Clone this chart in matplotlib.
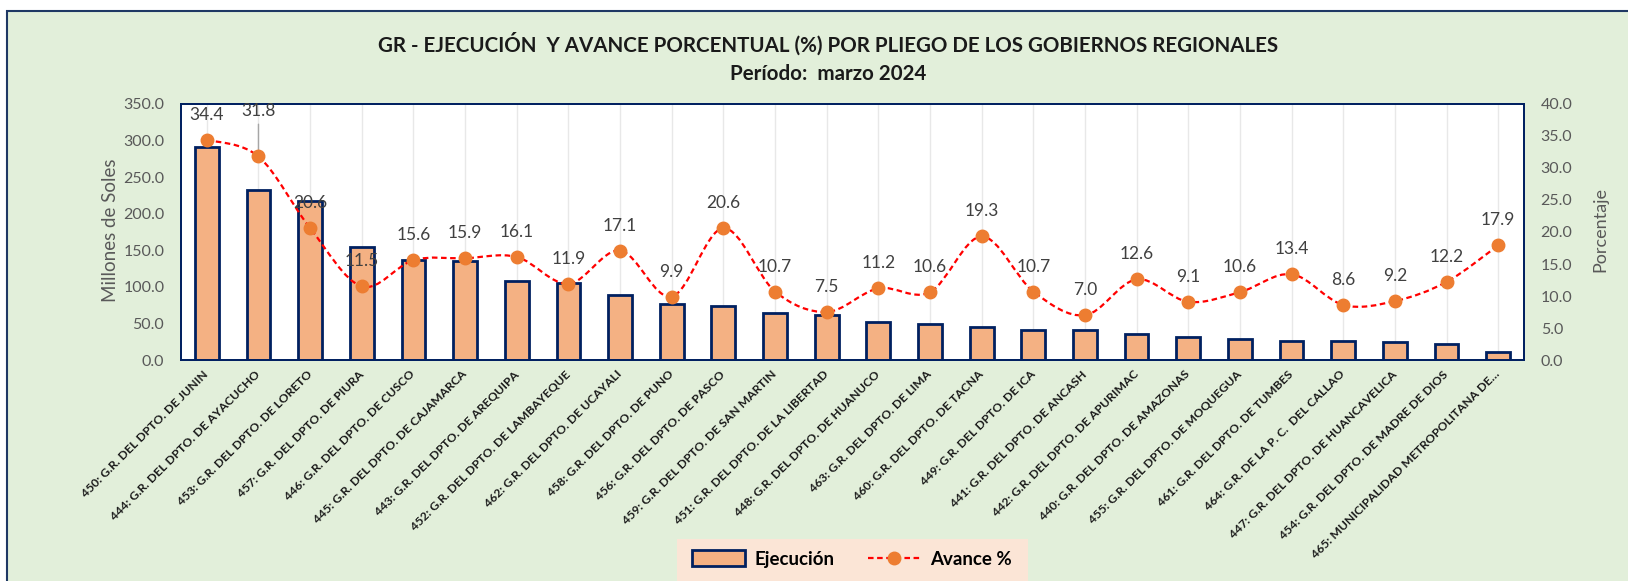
import numpy as np
import matplotlib
matplotlib.use("Agg")
import matplotlib.pyplot as plt
from matplotlib.patches import Rectangle, Patch, PathPatch
from matplotlib.lines import Line2D
from matplotlib.path import Path

plt.rcParams['font.family'] = ['Lato', 'DejaVu Sans']

categories = [
    "450: G.R. DEL DPTO. DE JUNIN",
    "444: G.R. DEL DPTO. DE AYACUCHO",
    "453: G.R. DEL DPTO. DE LORETO",
    "457: G.R. DEL DPTO. DE PIURA",
    "446: G.R. DEL DPTO. DE CUSCO",
    "445: G.R. DEL DPTO. DE CAJAMARCA",
    "443: G.R. DEL DPTO. DE AREQUIPA",
    "452: G.R. DEL DPTO. DE LAMBAYEQUE",
    "462: G.R. DEL DPTO. DE UCAYALI",
    "458: G.R. DEL DPTO. DE PUNO",
    "456: G.R. DEL DPTO. DE PASCO",
    "459: G.R. DEL DPTO. DE SAN MARTIN",
    "451: G.R. DEL DPTO. DE LA LIBERTAD",
    "448: G.R. DEL DPTO. DE HUANUCO",
    "463: G.R. DEL DPTO. DE LIMA",
    "460: G.R. DEL DPTO. DE TACNA",
    "449: G.R. DEL DPTO. DE ICA",
    "441: G.R. DEL DPTO. DE ANCASH",
    "442: G.R. DEL DPTO. DE APURIMAC",
    "440: G.R. DEL DPTO. DE AMAZONAS",
    "455: G.R. DEL DPTO. DE MOQUEGUA",
    "461: G.R. DEL DPTO. DE TUMBES",
    "464: G.R. DE LA P. C.  DEL CALLAO",
    "447: G.R. DEL DPTO. DE HUANCAVELICA",
    "454: G.R. DEL DPTO. DE MADRE DE DIOS",
    "465: MUNICIPALIDAD METROPOLITANA DE\u2026",
]
ejecucion = [291, 233, 218, 154, 137, 136, 108, 105, 89, 76.5, 74, 64, 61.5,
             51.5, 49, 45.5, 41, 40.7, 35, 31, 28.2, 26.5, 26.3, 24.5, 22.3, 11.3]
avance = [34.4, 31.8, 20.6, 11.5, 15.6, 15.9, 16.1, 11.9, 17.1, 9.9, 20.6, 10.7, 7.5,
          11.2, 10.6, 19.3, 10.7, 7.0, 12.6, 9.1, 10.6, 13.4, 8.6, 9.2, 12.2, 17.9]
left_ticks = [0, 50, 100, 150, 200, 250, 300, 350]
right_ticks = [0, 5, 10, 15, 20, 25, 30, 35, 40]

W, H = 1628, 581
fig = plt.figure(figsize=(W / 100, H / 100), dpi=100, facecolor='white')

# outer chart area
fig.patches.append(Rectangle((7 / W, -0.05), 1.2, (H - 11) / H + 0.05,
                             transform=fig.transFigure, facecolor='#E2EFDA',
                             edgecolor='#1F3864', lw=1.5, zorder=-10))

ax = fig.add_axes([181 / W, (H - 360) / H, (1524 - 181) / W, 256 / H])
ax.set_facecolor('white')
x = np.arange(len(categories))
ax.bar(x, ejecucion, width=0.46, color='#F4B183', edgecolor='#002060', lw=2.0, zorder=2)
ax.set_xlim(-0.5, len(categories) - 0.5)
ax.set_ylim(0, 350)
ax.set_yticks(left_ticks)
ax.set_yticklabels([f"{v:.1f}" for v in left_ticks])
ax.set_xticks(x)
ax.set_xticklabels(categories, rotation=45, ha='right', va='center',
                   rotation_mode='anchor', fontsize=8.7, fontweight='bold', color='#1a1a1a')
ax.tick_params(axis='x', length=0, pad=9)
ax.tick_params(axis='y', length=0, pad=12, labelsize=11.5, labelcolor='#595959')
ax.set_axisbelow(True)
ax.grid(axis='x', color='#E8E8E8', lw=1, zorder=0)
for s in ax.spines.values():
    s.set_color('#002060')
    s.set_linewidth(1.3)

ax2 = ax.twinx()
ax2.set_ylim(0, 40)
ax2.set_yticks(right_ticks)
ax2.set_yticklabels([f"{v:.1f}" for v in right_ticks])
ax2.tick_params(axis='y', length=0, pad=12, labelsize=11.5, labelcolor='#595959')
for s in ax2.spines.values():
    s.set_color('#002060')
    s.set_linewidth(1.3)

# smoothed line (Excel-style Bezier through data points)
pts = np.column_stack([x, avance]).astype(float)
n = len(pts)
verts = [pts[0]]
codes = [Path.MOVETO]
for i in range(n - 1):
    p0 = pts[i - 1] if i > 0 else pts[i]
    p1 = pts[i]
    p2 = pts[i + 1]
    p3 = pts[i + 2] if i + 2 < n else pts[i + 1]
    c1 = p1 + (p2 - p0) / 6.0
    c2 = p2 - (p3 - p1) / 6.0
    verts += [c1, c2, p2]
    codes += [Path.CURVE4] * 3
ax2.add_patch(PathPatch(Path(verts, codes), facecolor='none', edgecolor='#FF0000',
                        lw=1.6, linestyle=(0, (2.5, 1.6)), zorder=3))
ax2.plot(x, avance, linestyle='none', marker='o', markersize=9,
         markerfacecolor='#ED7D31', markeredgecolor='#ED7D31', zorder=4)

for i, v in enumerate(avance):
    if i == 1:
        ax2.annotate(f"{v:.1f}", xy=(i, v), xytext=(0, 33), textcoords='offset points',
                     ha='center', va='center', fontsize=12.5, color='#404040',
                     arrowprops=dict(arrowstyle='-', color='#A6A6A6', lw=1,
                                     shrinkA=2, shrinkB=5))
    else:
        ax2.annotate(f"{v:.1f}", xy=(i, v), xytext=(0, 18), textcoords='offset points',
                     ha='center', va='center', fontsize=12.5, color='#404040')

# titles
fig.text(828 / W, 1 - 44 / H, "GR - EJECUCIÓN  Y AVANCE PORCENTUAL (%) POR PLIEGO DE LOS GOBIERNOS REGIONALES",
         ha='center', va='center', fontsize=14.8, fontweight='bold', color='#1a1a1a')
fig.text(828 / W, 1 - 74 / H, "Período:  marzo 2024",
         ha='center', va='center', fontsize=14.8, fontweight='bold', color='#1a1a1a')
fig.text(110 / W, 1 - 230 / H, "Millones de Soles", rotation=90, ha='center', va='center',
         fontsize=13.5, color='#595959')
fig.text(1600 / W, 1 - 230 / H, "Porcentaje", rotation=90, ha='center', va='center',
         fontsize=13, color='#595959')

# legend
fig.patches.append(Rectangle((677 / W, 0), (1028 - 677) / W, (H - 539) / H,
                             transform=fig.transFigure, facecolor='#FBE5D6',
                             edgecolor='none', zorder=-5))
handles = [Patch(facecolor='#F4B183', edgecolor='#002060', lw=2.0),
           Line2D([0], [0], color='#FF0000', lw=1.6, linestyle=(0, (2.5, 1.6)),
                  marker='o', markersize=9, markerfacecolor='#ED7D31',
                  markeredgecolor='#ED7D31')]
fig.legend(handles, ["Ejecución", "Avance %"], loc='center',
           bbox_to_anchor=(852 / W, 1 - 559 / H), ncol=2, frameon=False,
           prop={'weight': 'bold', 'size': 13.5}, handlelength=2.8, handleheight=0.9,
           columnspacing=1.8, handletextpad=0.5)

fig.savefig("out.png", dpi=100, facecolor='white')
